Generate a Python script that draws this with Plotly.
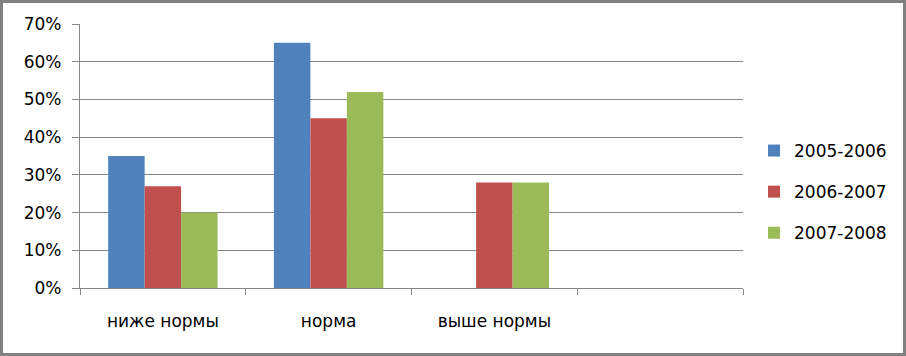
import plotly.graph_objects as go

categories = ["ниже нормы", "норма", "выше нормы", " "]
series_names = ["2005-2006", "2006-2007", "2007-2008"]
v_2005_2006 = [0.35, 0.65, 0.0, None]
v_2006_2007 = [0.27, 0.45, 0.28, None]
v_2007_2008 = [0.20, 0.52, 0.28, None]
colors = ["#4F81BD", "#C0504D", "#9BBB59"]
y_ticks = [0, 0.1, 0.2, 0.3, 0.4, 0.5, 0.6, 0.7]

FONT = "DejaVu Sans"
W, H = 906, 356
L, R, T, B = 80, 163, 24, 68
pw, ph = W - L - R, H - T - B

fig = go.Figure()
for name, vals, col in zip(series_names, [v_2005_2006, v_2006_2007, v_2007_2008], colors):
    fig.add_trace(go.Bar(x=categories, y=vals, name=name, marker_color=col,
                         marker_line_width=0, legendgroup=name))

def px2x(px):
    return (px - L) / pw

def py2y(py):
    return (H - B - py) / ph

fig.add_shape(type="rect", xref="paper", yref="paper",
              x0=px2x(1.5), x1=px2x(904.5), y0=py2y(1.5), y1=py2y(354.5),
              line=dict(color="#808080", width=3), layer="below")

fig.update_layout(
    width=W, height=H,
    margin=dict(l=L, r=R, t=T, b=B, autoexpand=False),
    paper_bgcolor="white", plot_bgcolor="white",
    font=dict(family=FONT, size=17, color="black"),
    barmode="group", bargap=0.34, bargroupgap=0,
    legend=dict(x=px2x(754), y=py2y(133), xanchor="left", yanchor="top",
                tracegroupgap=16, font=dict(size=17, family=FONT),
                itemwidth=30, bgcolor="rgba(0,0,0,0)"),
    showlegend=True,
)
fig.update_xaxes(type="category", categoryorder="array", categoryarray=categories,
                 showline=True, linecolor="#868686", linewidth=1.2,
                 ticks="outside", ticklen=6, tickcolor="#868686", tickwidth=1.2,
                 tickson="boundaries", showgrid=False,
                 ticklabelstandoff=17, tickfont=dict(size=17, family=FONT))
fig.update_yaxes(range=[0, 0.7], tickvals=y_ticks, tickformat=".0%",
                 showline=True, linecolor="#868686", linewidth=1.2,
                 ticks="outside", ticklen=7, tickcolor="#868686", tickwidth=1.2,
                 showgrid=True, gridcolor="#868686", gridwidth=1.2,
                 zeroline=False, ticklabelstandoff=7,
                 tickfont=dict(size=17, family=FONT))

fig.write_html("out.html", config={"displayModeBar": False},
               post_script="document.body.style.margin='0';")
